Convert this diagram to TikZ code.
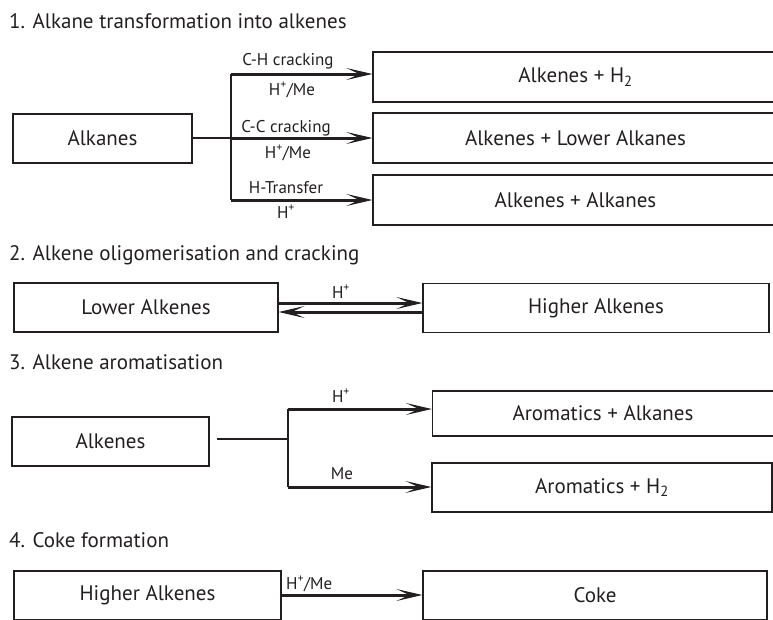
\documentclass[tikz,border=0pt]{standalone}
\usepackage{fontspec}
\setmainfont{PT Sans}
\usetikzlibrary{arrows.meta}
\definecolor{ink}{HTML}{231F20}

\begin{document}
\begin{tikzpicture}[x=1pt,y=-1pt,color=ink]

\tikzset{
  Box/.style={draw,line width=1.3pt,minimum height=49pt,inner sep=0pt,font=\fontsize{21}{25}\selectfont},
  Title/.style={anchor=base west,inner sep=0pt,font=\fontsize{21}{25}\selectfont},
  Lbl/.style={anchor=base,inner sep=0pt,font=\fontsize{17}{20}\selectfont},
  Rxn/.style={line width=3pt,-{Stealth[length=26pt,width=12pt,inset=13pt,line width=1pt]}},
  Link/.style={line width=1.3pt},
  Branch/.style={line width=2pt}
}
  \clip (0,0) rectangle (773,619);

  % 1
  \node[Title] (t1) at (9,28) {1. Alkane transformation into alkenes};
  \node[Box,minimum width=179pt] (alkanes) at (102.5,138.5) {Alkanes};
  \node[Box,minimum width=405pt,minimum height=50pt] (ah) at (575.5,77) {Alkenes + H\textsubscript{2}};
  \node[Box,minimum width=405pt,minimum height=50pt] (alow) at (575.5,138) {Alkenes + Lower Alkanes};
  \node[Box,minimum width=405pt,minimum height=50pt] (aalk) at (575.5,200) {Alkenes + Alkanes};

  \coordinate (j1) at (231,74);
  \coordinate (j2) at (231,138);
  \coordinate (j3) at (231,200);

  \draw[Link] (alkanes.east |- j2) -- (j2);
  \draw[Branch] (j1) -- (j3);
  \draw[Rxn] (j1) -- (j1 -| ah.west);
  \draw[Rxn] (j2) -- (j2 -| alow.west);
  \draw[Rxn] (j3) -- (j3 -| aalk.west);

  \node[Lbl] (ch) at (288,65) {C-H cracking};
  \node[Lbl] (chc) at (292,95) {H\textsuperscript{+}/Me};
  \node[Lbl] (cc) at (286,132) {C-C cracking};
  \node[Lbl] (ccc) at (288,158) {H\textsuperscript{+}/Me};
  \node[Lbl] (ht) at (286,193) {H-Transfer};
  \node[Lbl] (htc) at (286,218) {H\textsuperscript{+}};

  % 2
  \node[Title] (t2) at (9,260) {2. Alkene oligomerisation and cracking};
  \node[Box,minimum width=264pt] (lower) at (146,307.5) {Lower Alkenes};
  \node[Box,minimum width=346pt] (higher) at (596,308) {Higher Alkenes};

  \coordinate (f2) at (350,303);
  \coordinate (b2) at (350,312);

  \draw[Rxn] (lower.east |- f2) -- (higher.west |- f2);
  \draw[Rxn] (higher.west |- b2) -- (lower.east |- b2);
  \node[Lbl] (oc) at (341,298) {H\textsuperscript{+}};

  % 3
  \node[Title] (t3) at (9,369) {3. Alkene aromatisation};
  \node[Box,minimum width=197pt] (alkenes) at (110.5,441.5) {Alkenes};
  \node[Box,minimum width=341pt,minimum height=45pt] (aralk) at (603,413.5) {Aromatics + Alkanes};
  \node[Box,minimum width=340pt] (arh) at (602,487.5) {Aromatics + H\textsubscript{2}};

  \coordinate (s3) at (217,439);
  \coordinate (k3) at (288,439);
  \coordinate (u3) at (288,409);
  \coordinate (d3) at (288,487);

  \draw[Link] (s3) -- (k3);
  \draw[Branch] (u3) -- (d3);
  \draw[Rxn] (u3) -- (u3 -| aralk.west);
  \draw[Rxn] (d3) -- (d3 -| arh.west);
  \node[Lbl] (ac) at (341,402) {H\textsuperscript{+}};
  \node[Lbl] (mc) at (342,479) {Me};

  % 4
  \node[Title] (t4) at (9,547) {4. Coke formation};
  \node[Box,minimum width=267pt] (higher2) at (147.5,595.5) {Higher Alkenes};
  \node[Box,minimum width=344pt] (coke) at (595,595.5) {Coke};

  \coordinate (c4) at (350,595);

  \draw[Rxn] (higher2.east |- c4) -- (coke.west |- c4);
  \node[Lbl,anchor=base west] (kc) at (286,589) {H\textsuperscript{+}/Me};

\end{tikzpicture}
\end{document}
